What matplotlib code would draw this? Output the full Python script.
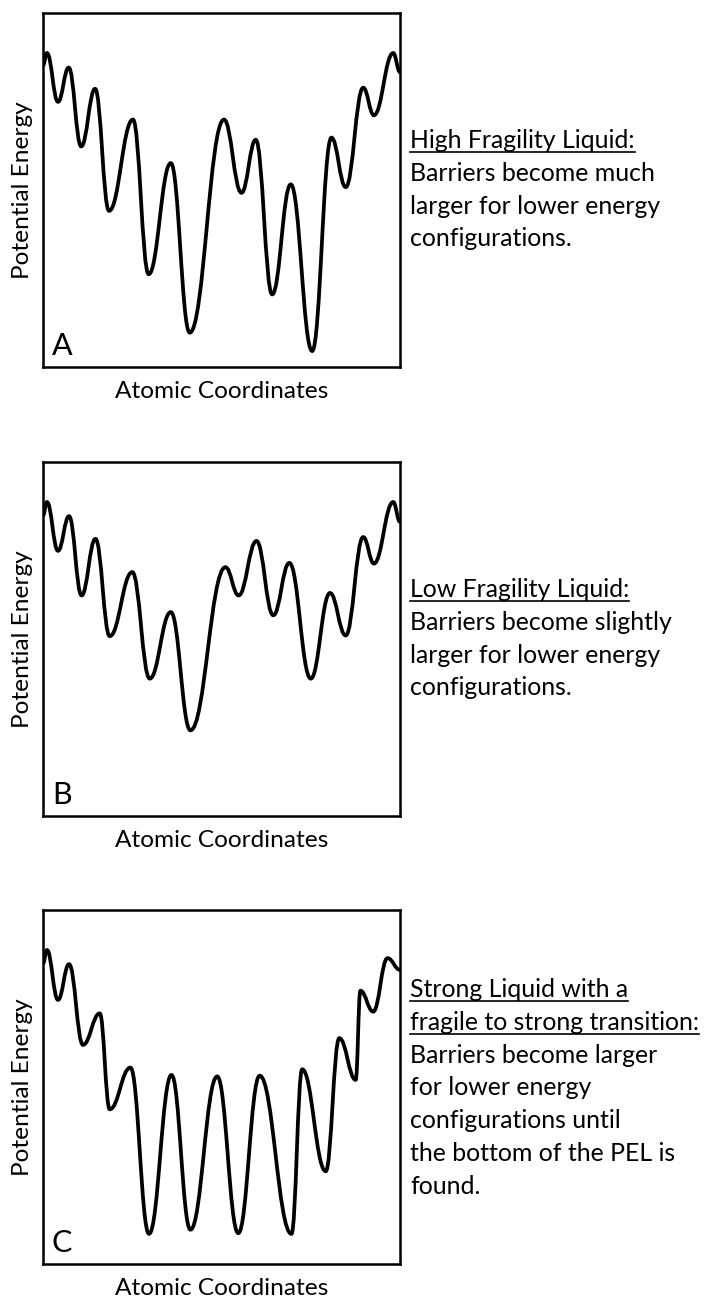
import matplotlib.pyplot as plt
from matplotlib.path import Path
from matplotlib.patches import PathPatch
from matplotlib.lines import Line2D

plt.rcParams['font.family'] = ['Lato', 'DejaVu Sans']

W, H = 709, 1303

# turning points of each energy landscape (x and energy on a 0-100 scale inside the box)
a_x = [0, 1.1, 4.2, 7.2, 10.7, 14.6, 18.5, 25.2, 29.6, 35.8, 41.1, 50.7, 55.6, 59.6,
       64.2, 69.4, 75.4, 80.8, 84.8, 89.7, 92.7, 98.1, 100]
a_y = [85.2, 88.7, 74.9, 84.6, 62.3, 78.6, 44.1, 69.9, 26.2, 57.6, 9.7, 69.9, 49.2, 64.2,
       20.5, 51.6, 4.5, 64.8, 50.8, 78.9, 71.1, 88.7, 83.3]

b_x = [0, 1.1, 4.2, 7.3, 10.8, 14.7, 18.7, 25.0, 29.9, 35.8, 41.3, 51.1, 54.8, 59.8,
       64.5, 69.0, 75.0, 80.4, 84.8, 89.7, 92.7, 98.1, 100]
b_y = [84.9, 88.7, 74.9, 84.7, 62.3, 78.3, 50.8, 68.9, 38.8, 57.6, 24.2, 70.3, 62.3, 77.7,
       56.7, 71.5, 38.8, 63.0, 51.0, 78.8, 71.3, 88.7, 83.1]

c_x = [0, 1.1, 4.2, 7.3, 11.2, 15.9, 18.7, 24.5, 29.7, 36.0, 41.3, 48.8, 54.7, 60.7,
       69.6, 72.6, 79.2, 83.0, 87.6, 88.9, 92.5, 96.5, 100]
c_y = [84.9, 88.7, 74.6, 84.7, 61.9, 70.8, 43.7, 55.5, 8.5, 53.4, 9.7, 53.0, 8.7, 53.2,
       8.5, 55.0, 26.2, 63.8, 52.0, 77.2, 71.3, 86.4, 83.1]

letters = ['A', 'B', 'C']
notes_a = ["High Fragility Liquid:", "Barriers become much", "larger for lower energy",
           "configurations."]
notes_b = ["Low Fragility Liquid:", "Barriers become slightly", "larger for lower energy",
           "configurations."]
notes_c = ["Strong Liquid with a", "fragile to strong transition:", "Barriers become larger",
           "for lower energy", "configurations until", "the bottom of the PEL is", "found."]
n_heading = [1, 1, 2]

# box pixel positions: (left, top, right, bottom), first text baseline
boxes = [(43, 13, 400, 367), (43, 462, 400, 816), (43, 910, 400, 1264)]
first_base = [148, 597, 997]
line_step = 32.8


def fx(p):
    return p / W


def fy(p):
    return 1 - p / H


def landscape(ax, xs, ys, k=0.42):
    verts = [(xs[0], ys[0])]
    codes = [Path.MOVETO]
    for i in range(len(xs) - 1):
        dx = xs[i + 1] - xs[i]
        verts += [(xs[i] + k * dx, ys[i]), (xs[i + 1] - k * dx, ys[i + 1]), (xs[i + 1], ys[i + 1])]
        codes += [Path.CURVE4] * 3
    ax.add_patch(PathPatch(Path(verts, codes), fill=False, lw=2.7, ec='black',
                           capstyle='round', joinstyle='round'))


fig = plt.figure(figsize=(W / 100, H / 100), dpi=100)
renderer = fig.canvas.get_renderer()

data = [(a_x, a_y), (b_x, b_y), (c_x, c_y)]
notes = [notes_a, notes_b, notes_c]

for i in range(3):
    l, t, r, b = boxes[i]
    ax = fig.add_axes([fx(l), fy(b), (r - l) / W, (b - t) / H])
    ax.set_xlim(0, 100)
    ax.set_ylim(0, 100)
    ax.set_xticks([])
    ax.set_yticks([])
    for s in ax.spines.values():
        s.set_linewidth(1.8)
    landscape(ax, *data[i])
    ax.text(0.025, 0.034, letters[i], transform=ax.transAxes, fontsize=22, va='baseline')

    fig.text(fx((l + r) / 2), fy(b + 31), 'Atomic Coordinates', ha='center', va='baseline',
             fontsize=17.6)
    fig.text(fx(23), fy((t + b) / 2), 'Potential Energy', ha='center', va='center',
             rotation=90, fontsize=17.6)

    for j, line in enumerate(notes[i]):
        yb = first_base[i] + j * line_step
        txt = fig.text(fx(410), fy(yb), line, ha='left', va='baseline', fontsize=17.9)
        if j < n_heading[i]:
            bb = txt.get_window_extent(renderer)
            fig.add_artist(Line2D([bb.x0 / W, bb.x1 / W], [fy(yb + 4), fy(yb + 4)],
                                  transform=fig.transFigure, color='black', lw=1.2))

fig.savefig('out.png', dpi=100)
